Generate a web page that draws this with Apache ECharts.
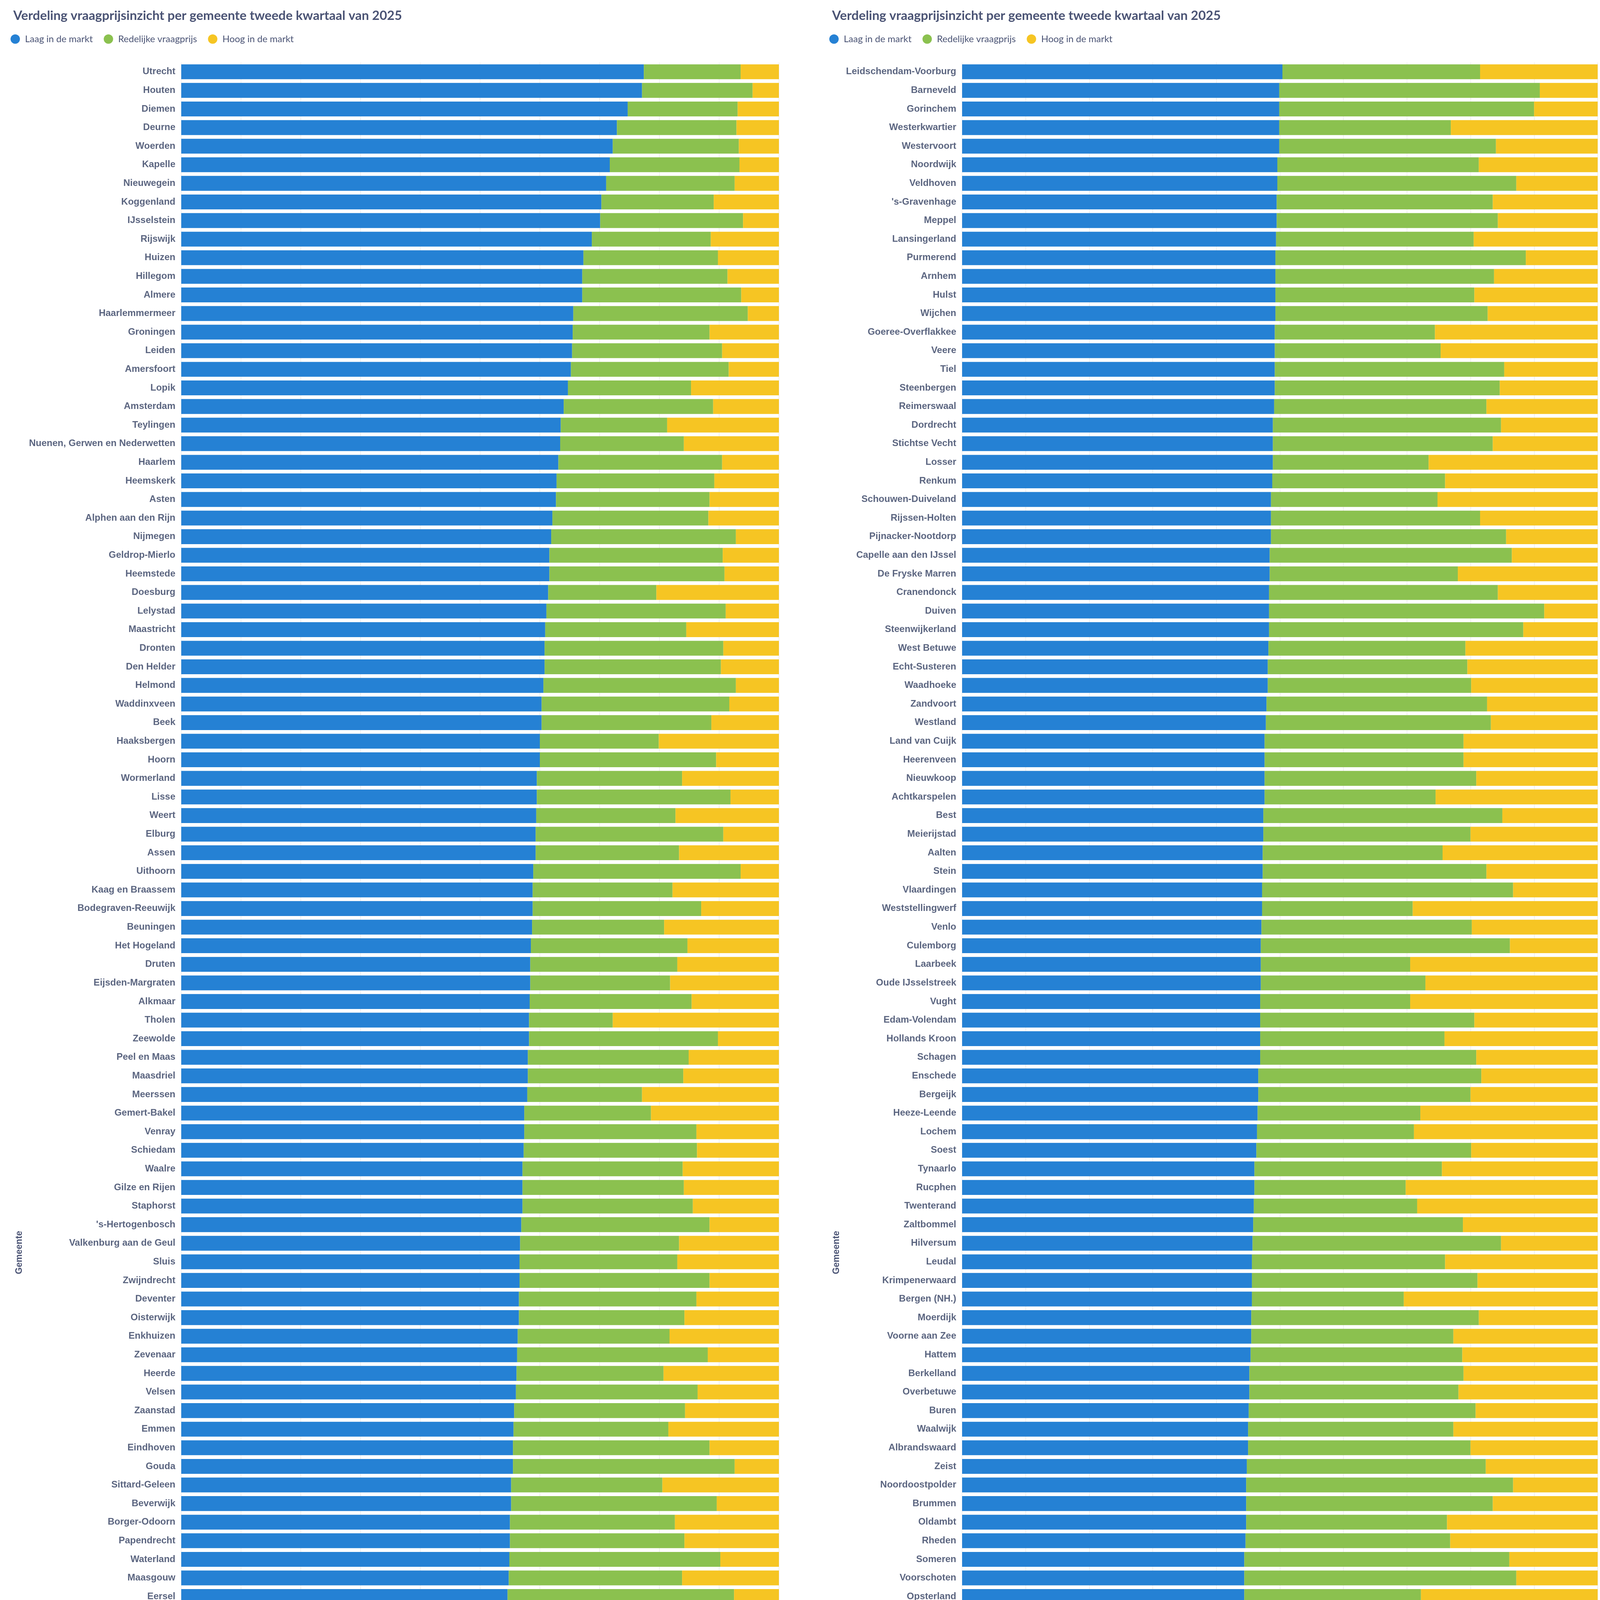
<!DOCTYPE html>
<html>
<head>
<meta charset="utf-8">
<title>Verdeling vraagprijsinzicht per gemeente</title>
<script src="https://cdn.jsdelivr.net/npm/echarts@6/dist/echarts.min.js"></script>
<style>
    html, body { margin: 0; padding: 0; background: #ffffff; overflow: hidden; width: 4192px; height: 6356px; }
    .chart { position: absolute; top: 0; width: 2096px; height: 6356px; }
    #gemeentenLinks { left: 0; }
    #gemeentenRechts { left: 2096px; }
</style>
</head>
<body>
<div id="gemeentenLinks" class="chart"></div>
<div id="gemeentenRechts" class="chart"></div>
<script>
// linker grafiek: gemeenten en aandelen (in %)
const leftGemeenten = ['Utrecht', 'Houten', 'Diemen', 'Deurne', 'Woerden', 'Kapelle', 'Nieuwegein', 'Koggenland', 'IJsselstein', 'Rijswijk',
    'Huizen', 'Hillegom', 'Almere', 'Haarlemmermeer', 'Groningen', 'Leiden', 'Amersfoort', 'Lopik', 'Amsterdam', 'Teylingen',
    'Nuenen, Gerwen en Nederwetten', 'Haarlem', 'Heemskerk', 'Asten', 'Alphen aan den Rijn', 'Nijmegen', 'Geldrop-Mierlo', 'Heemstede', 'Doesburg', 'Lelystad',
    'Maastricht', 'Dronten', 'Den Helder', 'Helmond', 'Waddinxveen', 'Beek', 'Haaksbergen', 'Hoorn', 'Wormerland', 'Lisse',
    'Weert', 'Elburg', 'Assen', 'Uithoorn', 'Kaag en Braassem', 'Bodegraven-Reeuwijk', 'Beuningen', 'Het Hogeland', 'Druten', 'Eijsden-Margraten',
    'Alkmaar', 'Tholen', 'Zeewolde', 'Peel en Maas', 'Maasdriel', 'Meerssen', 'Gemert-Bakel', 'Venray', 'Schiedam', 'Waalre',
    'Gilze en Rijen', 'Staphorst', '\'s-Hertogenbosch', 'Valkenburg aan de Geul', 'Sluis', 'Zwijndrecht', 'Deventer', 'Oisterwijk', 'Enkhuizen', 'Zevenaar',
    'Heerde', 'Velsen', 'Zaanstad', 'Emmen', 'Eindhoven', 'Gouda', 'Sittard-Geleen', 'Beverwijk', 'Borger-Odoorn', 'Papendrecht',
    'Waterland', 'Maasgouw', 'Eersel', 'Ridderkerk', 'Nijkerk', 'Raalte', 'Ommen', 'Rotterdam', 'Terneuzen', 'Dongen',
    'Doetinchem', 'Oost Gelre', 'Stede Broec', 'Roermond', 'Hendrik-Ido-Ambacht', 'Etten-Leur', 'Zutphen', 'Drechterland', 'Midden-Delfland', 'Horst aan de Maas',
    'Gennep', 'Amstelveen', 'Texel', 'Tilburg', 'Kampen', 'Bronckhorst', 'Medemblik', 'Noordenveld', 'Montferland', 'Zwolle',
    'Middelburg', 'Landgraaf', 'West Maas en Waal', 'Breda', 'Hardenberg', 'Midden-Drenthe', 'Zoetermeer', 'Valkenswaard', 'Katwijk', 'Ouder-Amstel',
    'Heerlen', 'Sliedrecht', 'Oldebroek', 'Borne', 'Son en Breugel', 'Goes', 'Brunssum', 'Leiderdorp'];
const leftLaag = [77.4, 77.1, 74.7, 72.9, 72.2, 71.7, 71.1, 70.3, 70.1, 68.7,
    67.3, 67.1, 67.1, 65.6, 65.5, 65.4, 65.2, 64.7, 64.0, 63.5,
    63.4, 63.1, 62.8, 62.7, 62.1, 61.9, 61.6, 61.6, 61.4, 61.1,
    60.9, 60.8, 60.8, 60.6, 60.3, 60.3, 60.0, 60.0, 59.5, 59.5,
    59.4, 59.3, 59.3, 58.9, 58.8, 58.8, 58.7, 58.5, 58.4, 58.4,
    58.3, 58.2, 58.2, 58.0, 58.0, 57.9, 57.4, 57.4, 57.3, 57.1,
    57.1, 57.1, 56.9, 56.7, 56.6, 56.6, 56.5, 56.5, 56.3, 56.2,
    56.1, 56.0, 55.7, 55.6, 55.5, 55.5, 55.2, 55.2, 55.0, 55.0,
    54.9, 54.8, 54.6, 54.5, 54.5, 54.5, 54.4, 54.4, 54.2, 54.1,
    54.1, 54.1, 54.0, 53.7, 53.6, 53.4, 53.3, 53.3, 53.3, 53.1,
    53.1, 53.1, 52.9, 52.8, 52.7, 52.3, 52.1, 52.1, 52.0, 51.9,
    51.8, 51.8, 51.8, 51.8, 51.7, 51.5, 51.4, 51.3, 51.2, 51.1,
    51.1, 51.0, 50.9, 50.9, 50.8, 50.5, 50.5, 50.5];
const leftRedelijk = [16.2, 18.5, 18.4, 20.0, 21.1, 21.7, 21.5, 18.8, 23.9, 19.9,
    22.5, 24.3, 26.6, 29.2, 22.9, 25.1, 26.4, 20.6, 25.0, 17.8,
    20.7, 27.4, 26.4, 25.7, 26.1, 30.9, 29.0, 29.3, 18.1, 30.0,
    23.6, 29.9, 29.5, 32.2, 31.4, 28.4, 19.9, 29.5, 24.3, 32.4,
    23.3, 31.4, 24.0, 34.7, 23.4, 28.2, 22.1, 26.2, 24.6, 23.4,
    27.1, 14.0, 31.6, 26.9, 26.0, 19.2, 21.2, 28.8, 29.0, 26.8,
    27.0, 28.5, 31.5, 26.6, 26.4, 31.8, 29.7, 27.7, 25.4, 31.9,
    24.6, 30.4, 28.6, 25.9, 32.9, 37.1, 25.3, 34.4, 27.6, 29.2,
    35.3, 29.0, 37.9, 28.8, 33.9, 26.1, 22.0, 32.7, 28.6, 26.4,
    35.1, 24.5, 29.8, 31.2, 35.4, 37.8, 34.4, 33.4, 24.5, 29.6,
    30.5, 34.6, 32.4, 36.0, 34.5, 31.8, 27.8, 29.2, 28.8, 32.3,
    35.4, 32.8, 36.6, 33.1, 31.0, 32.0, 36.4, 34.5, 36.7, 31.8,
    33.1, 42.6, 30.2, 24.6, 34.0, 29.6, 29.0, 39.2];
const leftHoog = [6.4, 4.4, 6.9, 7.1, 6.7, 6.6, 7.4, 10.9, 6.0, 11.4,
    10.2, 8.6, 6.3, 5.2, 11.6, 9.5, 8.4, 14.7, 11.0, 18.7,
    15.9, 9.5, 10.8, 11.6, 11.8, 7.2, 9.4, 9.1, 20.5, 8.9,
    15.5, 9.3, 9.7, 7.2, 8.3, 11.3, 20.1, 10.5, 16.2, 8.1,
    17.3, 9.3, 16.7, 6.4, 17.8, 13.0, 19.2, 15.3, 17.0, 18.2,
    14.6, 27.8, 10.2, 15.1, 16.0, 22.9, 21.4, 13.8, 13.7, 16.1,
    15.9, 14.4, 11.6, 16.7, 17.0, 11.6, 13.8, 15.8, 18.3, 11.9,
    19.3, 13.6, 15.7, 18.5, 11.6, 7.4, 19.5, 10.4, 17.4, 15.8,
    9.8, 16.2, 7.5, 16.7, 11.6, 19.4, 23.6, 12.9, 17.2, 19.5,
    10.8, 21.4, 16.2, 15.1, 11.0, 8.8, 12.3, 13.3, 22.2, 17.3,
    16.4, 12.3, 14.7, 11.2, 12.8, 15.9, 20.1, 18.7, 19.2, 15.8,
    12.8, 15.4, 11.6, 15.1, 17.3, 16.5, 12.2, 14.2, 12.1, 17.1,
    15.8, 6.4, 18.9, 24.5, 15.2, 19.9, 20.5, 10.3];

// rechter grafiek: laatste plek op de as blijft leeg
const rightGemeenten = ['Leidschendam-Voorburg', 'Barneveld', 'Gorinchem', 'Westerkwartier', 'Westervoort', 'Noordwijk', 'Veldhoven', '\'s-Gravenhage', 'Meppel', 'Lansingerland',
    'Purmerend', 'Arnhem', 'Hulst', 'Wijchen', 'Goeree-Overflakkee', 'Veere', 'Tiel', 'Steenbergen', 'Reimerswaal', 'Dordrecht',
    'Stichtse Vecht', 'Losser', 'Renkum', 'Schouwen-Duiveland', 'Rijssen-Holten', 'Pijnacker-Nootdorp', 'Capelle aan den IJssel', 'De Fryske Marren', 'Cranendonck', 'Duiven',
    'Steenwijkerland', 'West Betuwe', 'Echt-Susteren', 'Waadhoeke', 'Zandvoort', 'Westland', 'Land van Cuijk', 'Heerenveen', 'Nieuwkoop', 'Achtkarspelen',
    'Best', 'Meierijstad', 'Aalten', 'Stein', 'Vlaardingen', 'Weststellingwerf', 'Venlo', 'Culemborg', 'Laarbeek', 'Oude IJsselstreek',
    'Vught', 'Edam-Volendam', 'Hollands Kroon', 'Schagen', 'Enschede', 'Bergeijk', 'Heeze-Leende', 'Lochem', 'Soest', 'Tynaarlo',
    'Rucphen', 'Twenterand', 'Zaltbommel', 'Hilversum', 'Leudal', 'Krimpenerwaard', 'Bergen (NH.)', 'Moerdijk', 'Voorne aan Zee', 'Hattem',
    'Berkelland', 'Overbetuwe', 'Buren', 'Waalwijk', 'Albrandswaard', 'Zeist', 'Noordoostpolder', 'Brummen', 'Oldambt', 'Rheden',
    'Someren', 'Voorschoten', 'Opsterland', 'Wijdemeren', 'Zuidplas', 'Almelo', 'De Wolden', 'Oldenzaal', 'Aa en Hunze', 'Bloemendaal',
    'Zundert', 'Apeldoorn', 'Borsele', 'Zwartewaterland', 'Drimmelen', 'Rhenen', 'Veendam', 'De Bilt', 'Coevorden', 'Olst-Wijhe',
    'Bernheze', 'Beekdaelen', 'Ede', 'Smallingerland', 'Kerkrade', 'Krimpen aan den IJssel', 'Utrechtse Heuvelrug', 'Leusden', 'Dalfsen', 'Midden-Groningen',
    'Maashorst', 'Delft', 'Westerveld', 'De Ronde Venen', 'Boxtel', 'Gooise Meren', 'Neder-Betuwe', 'Bladel', 'Sint-Michielsgestel', 'Westerwolde',
    'Lingewaard', 'Baarn', 'Nissewaard', 'Hof van Twente', 'Hoeksche Waard', 'Altena', 'Maassluis', ''];
const rightLaag = [50.4, 49.9, 49.9, 49.9, 49.9, 49.6, 49.6, 49.5, 49.5, 49.4,
    49.3, 49.3, 49.3, 49.3, 49.2, 49.2, 49.2, 49.2, 49.1, 48.9,
    48.9, 48.9, 48.8, 48.6, 48.6, 48.6, 48.4, 48.4, 48.3, 48.3,
    48.3, 48.2, 48.1, 48.1, 47.9, 47.8, 47.6, 47.6, 47.6, 47.6,
    47.4, 47.4, 47.3, 47.3, 47.2, 47.2, 47.1, 47.0, 47.0, 47.0,
    46.9, 46.9, 46.9, 46.9, 46.6, 46.6, 46.5, 46.4, 46.3, 46.0,
    46.0, 45.9, 45.8, 45.7, 45.6, 45.6, 45.6, 45.5, 45.5, 45.4,
    45.2, 45.2, 45.1, 45.0, 45.0, 44.8, 44.7, 44.7, 44.7, 44.6,
    44.4, 44.4, 44.4, 44.4, 44.2, 44.2, 44.1, 44.0, 43.7, 43.7,
    43.6, 43.5, 43.4, 43.3, 43.2, 43.2, 43.1, 43.1, 43.1, 43.0,
    42.9, 42.8, 42.8, 42.3, 42.3, 42.0, 42.0, 41.8, 41.8, 41.6,
    41.6, 41.6, 41.4, 41.4, 41.4, 41.2, 41.1, 41.1, 41.1, 41.0,
    41.0, 40.9, 40.6, 40.4, 40.4, 40.3, 40.0, '-'];
const rightRedelijk = [31.1, 41.0, 40.1, 27.0, 34.1, 31.7, 37.6, 34.0, 34.8, 31.1,
    39.4, 34.4, 31.3, 33.4, 25.2, 26.1, 36.1, 35.4, 33.4, 35.9,
    34.6, 24.5, 27.2, 26.2, 32.9, 37.0, 38.1, 29.6, 36.0, 43.3,
    40.0, 31.0, 31.4, 32.0, 34.7, 35.4, 31.3, 31.3, 33.3, 26.9,
    37.6, 32.6, 28.3, 35.2, 39.5, 23.7, 33.1, 39.2, 23.5, 25.9,
    23.6, 33.7, 29.0, 34.0, 35.1, 33.4, 25.6, 24.7, 33.8, 29.5,
    23.8, 25.7, 33.0, 39.1, 30.4, 35.5, 23.9, 35.8, 31.8, 33.3,
    33.7, 32.9, 35.7, 32.3, 35.0, 37.6, 42.0, 38.8, 31.6, 32.2,
    41.7, 42.8, 27.8, 37.5, 33.2, 31.8, 32.3, 35.7, 23.4, 35.5,
    31.1, 37.1, 39.2, 43.4, 24.3, 35.1, 35.3, 31.7, 28.1, 29.4,
    38.1, 28.6, 36.3, 37.1, 35.0, 49.4, 31.9, 41.0, 25.3, 35.2,
    40.3, 37.6, 24.6, 36.9, 40.2, 38.4, 47.1, 41.3, 38.3, 13.7,
    37.3, 29.0, 37.7, 28.5, 35.7, 40.5, 38.7, '-'];
const rightHoog = [18.5, 9.1, 10.0, 23.1, 16.0, 18.7, 12.8, 16.5, 15.7, 19.5,
    11.3, 16.3, 19.4, 17.3, 25.6, 24.7, 14.7, 15.4, 17.5, 15.2,
    16.5, 26.6, 24.0, 25.2, 18.5, 14.4, 13.5, 22.0, 15.7, 8.4,
    11.7, 20.8, 20.5, 19.9, 17.4, 16.8, 21.1, 21.1, 19.1, 25.5,
    15.0, 20.0, 24.4, 17.5, 13.3, 29.1, 19.8, 13.8, 29.5, 27.1,
    29.5, 19.4, 24.1, 19.1, 18.3, 20.0, 27.9, 28.9, 19.9, 24.5,
    30.2, 28.4, 21.2, 15.2, 24.0, 18.9, 30.5, 18.7, 22.7, 21.3,
    21.1, 21.9, 19.2, 22.7, 20.0, 17.6, 13.3, 16.5, 23.7, 23.2,
    13.9, 12.8, 27.8, 18.1, 22.6, 24.0, 23.6, 20.3, 32.9, 20.8,
    25.3, 19.4, 17.4, 13.3, 32.5, 21.7, 21.6, 25.2, 28.8, 27.6,
    19.0, 28.6, 20.9, 20.6, 22.7, 8.6, 26.1, 17.2, 32.9, 23.2,
    18.1, 20.8, 34.0, 21.7, 18.4, 20.4, 11.8, 17.6, 20.6, 45.3,
    21.7, 30.1, 21.7, 31.1, 23.9, 19.2, 21.3, '-'];

const reeksNamen = ['Laag in de markt', 'Redelijke vraagprijs', 'Hoog in de markt'];
const reeksKleuren = ['#2581d4', '#8bc14f', '#f6c523'];
const tekstKleur = '#5b6580';

// één grafiek opbouwen, params: div.id, data, ruimte links voor de labels
function renderVerdeling(containerId, gemeenten, laag, redelijk, hoog, gridLeft, nameGap) {
    const chart = echarts.init(document.getElementById(containerId), null, { renderer: 'canvas', devicePixelRatio: 1 });
    const waarden = [laag, redelijk, hoog];

    const option = {
        animation: false,
        backgroundColor: '#ffffff',
        color: reeksKleuren,
        title: {
            text: 'Verdeling vraagprijsinzicht per gemeente tweede kwartaal van 2025',
            left: 34,
            top: 24,
            padding: 0,
            textStyle: {
                fontFamily: 'Lato',
                fontWeight: 'bold',
                fontSize: 33,
                color: '#4a5374'
            }
        },
        legend: {
            data: reeksNamen,
            left: 27,
            top: 88,
            padding: 0,
            icon: 'circle',
            itemWidth: 24,
            itemHeight: 24,
            itemGap: 28,
            textStyle: {
                fontFamily: 'Lato',
                fontSize: 24,
                color: '#4a5374',
                padding: [0, 0, 0, 8]
            }
        },
        grid: {
            top: 160,
            bottom: 103,
            left: gridLeft,
            right: 102
        },
        xAxis: {
            type: 'value',
            min: 0,
            max: 100,
            interval: 10,
            axisLine: {
                show: true,
                lineStyle: { color: '#e8e8e8', width: 2 }
            },
            axisTick: {
                show: true,
                inside: true,
                length: 5,
                lineStyle: { color: '#e3e3e3', width: 2 }
            },
            splitLine: {
                show: true,
                lineStyle: { color: '#f0f0f0', width: 2 }
            },
            axisLabel: {
                margin: 22,
                fontFamily: 'Liberation Sans',
                fontWeight: 'bold',
                fontSize: 24,
                color: tekstKleur,
                formatter: function (value) {
                    return value.toFixed(2) + '%';
                }
            }
        },
        yAxis: {
            type: 'category',
            data: gemeenten,
            inverse: true,
            name: 'Gemeente',
            nameLocation: 'middle',
            nameRotate: 90,
            nameGap: nameGap,
            nameTextStyle: {
                fontFamily: 'Liberation Sans',
                fontWeight: 'bold',
                fontSize: 23,
                color: '#4a5374'
            },
            axisLine: { show: false },
            axisTick: { show: false },
            splitLine: { show: false },
            axisLabel: {
                margin: 15,
                fontFamily: 'Liberation Sans',
                fontWeight: 'bold',
                fontSize: 24,
                color: tekstKleur
            }
        },
        series: reeksNamen.map(function (naam, i) {
            return {
                name: naam,
                type: 'bar',
                stack: 'totaal',
                barWidth: '80%',
                data: waarden[i],
                itemStyle: { color: reeksKleuren[i] }
            };
        })
    };

    chart.setOption(option);
    return chart;
}

renderVerdeling('gemeentenLinks', leftGemeenten, leftLaag, leftRedelijk, leftHoog, 464, 403);
renderVerdeling('gemeentenRechts', rightGemeenten, rightLaag, rightRedelijk, rightHoog, 367, 310);
</script>
</body>
</html>
